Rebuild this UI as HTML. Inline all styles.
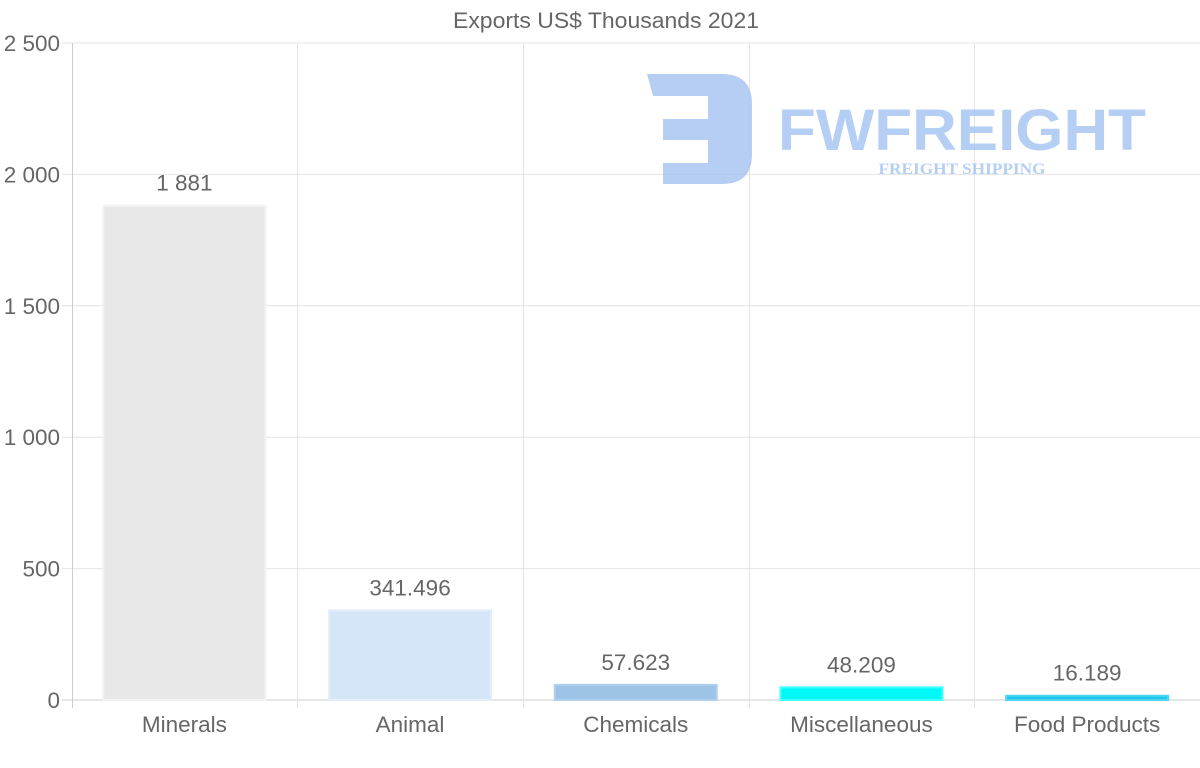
<!DOCTYPE html>
<html><head><meta charset="utf-8"><style>
body{margin:0;background:#fff;width:1200px;height:763px;overflow:hidden}
svg text{font-family:"Liberation Sans",sans-serif}
</style></head><body>
<svg id="chart" width="1200" height="763" xmlns="http://www.w3.org/2000/svg">
<text x="606" y="28" text-anchor="middle" font-size="22" fill="#666" textLength="306" lengthAdjust="spacingAndGlyphs">Exports US$ Thousands 2021</text>
<g id="grid"></g>
<g id="logo" opacity="0.85">
<path d="M647 74 H722 Q752 74 752 104 V154 Q752 184 722 184 H663 V163 H708 V140 H663 V119 H708 V96 H653 Z" fill="#a9c6f2"/>
<text x="778" y="150" font-size="58" font-weight="bold" fill="#a9c6f2" textLength="368" lengthAdjust="spacingAndGlyphs">FWFREIGHT</text>
<text x="962" y="174" text-anchor="middle" font-size="16" font-weight="bold" fill="#a9c6f2" style="font-family:'Liberation Serif',serif" textLength="167" lengthAdjust="spacingAndGlyphs">FREIGHT SHIPPING</text>
</g>
<g id="bars"></g>
</svg>
<script>
const categories = ["Minerals","Animal","Chemicals","Miscellaneous","Food Products"];
const values = [1881, 341.496, 57.623, 48.209, 16.189];
const valueLabels = ["1 881","341.496","57.623","48.209","16.189"];
const yTicks = [0,500,1000,1500,2000,2500];
const yTickLabels = ["0","500","1 000","1 500","2 000","2 500"];
const colors = ["#e8e8e8","#d6e6f8","#9dc3e6","#00f8f8","#1ec6f2"];
const strokes = ["#f2f2f2","#e4eefa","#b0d0ee","#40ffff","#50d4f6"];

const NS="http://www.w3.org/2000/svg";
const L=71.5,R=1200,T=43,B=700,yMax=2500;
const y=v=>B-(v/yMax)*(B-T);
const bw=(R-L)/categories.length;
const x=i=>L+bw*i;
function mk(t,a,p){const e=document.createElementNS(NS,t);for(const k in a)e.setAttribute(k,a[k]);p.appendChild(e);return e;}
const grid=document.getElementById('grid'),bars=document.getElementById('bars');
yTicks.forEach((t,i)=>{
  const g=mk('line',{x1:62,x2:R,y1:y(t),y2:y(t),stroke:t===0?'#ccc':'#e4e4e4','stroke-width':1},grid);
  
  
  const tx=mk('text',{x:60,y:y(t)+8,'text-anchor':'end','font-size':22.5,fill:'#666'},grid);
  tx.textContent=yTickLabels[i];
  
  
});
for(let i=0;i<=categories.length;i++){
  const vx=Math.round(x(i))+0.5;
  const l=mk('line',{x1:vx,x2:vx,y1:T,y2:B+8,stroke:i===0?'#ccc':'#e4e4e4','stroke-width':1},grid);
  
  
}
categories.forEach((c,i)=>{
  const cx=x(i)+bw/2,w=162;
  const r=mk('rect',{x:cx-w/2,y:y(values[i]),width:w,height:B-y(values[i]),fill:colors[i],stroke:strokes[i],'stroke-width':2},bars);
  
  
  const vl=mk('text',{x:cx,y:y(values[i])-15,'text-anchor':'middle','font-size':22.5,fill:'#666'},bars);
  vl.textContent=valueLabels[i];
  
  
  const cl=mk('text',{x:cx,y:732,'text-anchor':'middle','font-size':22.5,fill:'#666'},bars);
  cl.textContent=c;
  
  
});
</script>
</body></html>
